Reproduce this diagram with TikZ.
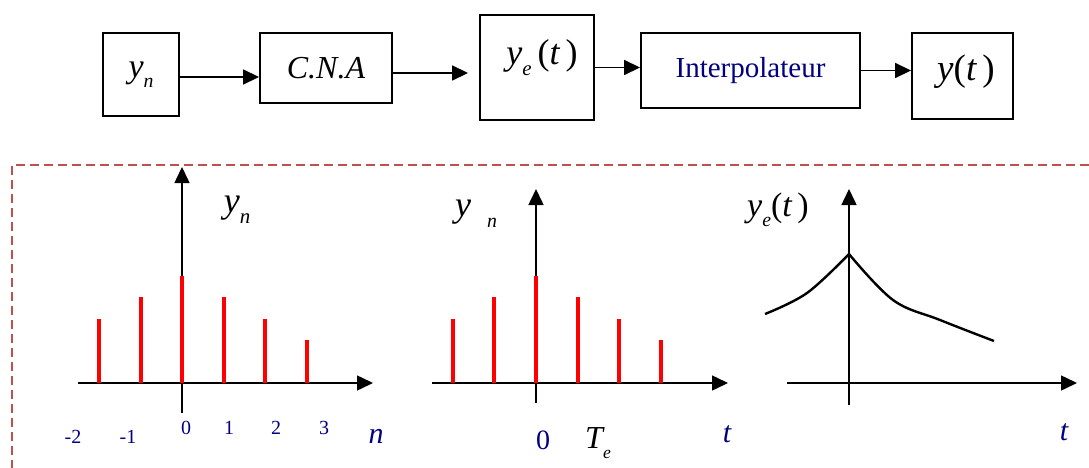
\documentclass[tikz,border=0pt]{standalone}
\usepackage{fontspec}
\usepackage{graphicx}
\setmainfont{Liberation Serif}
\usetikzlibrary{arrows.meta}

\definecolor{navytxt}{RGB}{0,0,128}
\definecolor{frame}{RGB}{192,80,77}
\newcommand\lo[2][0.58]{\raisebox{-0.3em}{\scalebox{#1}{\itshape #2}}}
\newcommand\fs[1]{\fontsize{#1}{#1}\selectfont}
\newcommand\ofte{\textup{(}\textit{t}\,\textup{)}}

\begin{document}
\begin{tikzpicture}[
	x=1pt, y=-1pt,
	box/.style={
		draw, line width=1.9pt, rectangle, inner sep=0pt,
		font=\fs{34}, align=center
	},
	arr/.style={-{Triangle[length=16pt,width=15pt]}, line width=1.6pt},
	axis/.style={-{Triangle[length=16pt,width=15pt]}, line width=1.5pt},
	stem/.style={red, line width=4pt},
	curve/.style={line width=2.4pt},
	lbl/.style={inner sep=0pt},
	tick/.style={lbl, text=navytxt, font=\fs{20}},
	]
	\useasboundingbox (0,0) rectangle (1089,468);

	\node[box, minimum width=76, minimum height=83]  (yn)     at (141,74.5) {\itshape y\lo{n}};
	\node[box, minimum width=132, minimum height=70, font=\fs{32}\itshape] (cna) at (326,68) {C.N.A};
	\node[box, minimum width=114, minimum height=105] (ye)     at (537,67.5) {};
	\node[lbl, font=\fs{36}] (yetxt) at (542,58) {\itshape y\lo{e}\,\ofte};
	\node[box, minimum width=219, minimum height=75, font=\fs{29}, text=navytxt] (interp) at (750.5,70.5) {Interpolateur};
	\node[box, minimum width=101, minimum height=86] (yt) at (962.5,76) {};
	\node[lbl, font=\fs{37}] (yttxt) at (966,72) {\itshape y\ofte};

	\draw[arr] ([yshift=-2.5pt]yn.east) -- ([yshift=-2.5pt]yn.east -| cna.west);
	\draw[arr] ([yshift=-5pt]cna.east) -- ([xshift=-11pt,yshift=-5pt]cna.east -| ye.west);
	\draw[arr] (ye.east) -- (ye.east -| interp.west);
	\draw[arr] (interp.east) -- (interp.east -| yt.west);

	\draw[frame, line width=1.8pt, dash pattern=on 9pt off 5pt] (1089,165) -- (12,165) -- (12,468);

	% sequence y_n versus n
	\draw[axis] (182,413) -- (182,167);
	\draw[axis] (78,383) -- (373,383);
	\foreach \k/\h in {-2/319,-1/297,0/276,1/297,2/319,3/340}
		\draw[stem] (182+41.5*\k,383) -- (182+41.5*\k,\h);
	\node[lbl, font=\fs{36}] (ylab1) at (237,210) {\itshape y\lo{n}};
	\foreach \nm/\txt/\xx/\yy in {m2/-2/73/437,m1/-1/128/437,0/0/186/428,1/1/229/428,2/2/276/428,3/3/324/428}
		\node[tick] (n\nm) at (\xx,\yy) {\txt};
	\node[lbl, text=navytxt, font=\fs{30}\itshape] (nlab) at (376,436) {n};

	% samples y_n versus t
	\draw[axis] (536,403) -- (536,189);
	\draw[axis] (432,383) -- (728,383);
	\foreach \k/\h in {-2/319,-1/297,0/276,1/297,2/319,3/340}
		\draw[stem] (536+41.7*\k,383) -- (536+41.7*\k,\h);
	\node[lbl, font=\fs{36}] (ylab2) at (476,214) {\itshape y\hspace{16pt}\lo[0.55]{n}};
	\node[lbl, text=navytxt, font=\fs{28}] (zero2) at (543,440) {0};
	\node[lbl, font=\fs{32}] (te) at (598,443) {\itshape T\lo[0.55]{e}};
	\node[lbl, text=navytxt, font=\fs{30}\itshape] (tlab2) at (727,434) {t};

	% interpolated y_e(t)
	\draw[axis] (849,405) -- (849,189);
	\draw[axis] (787,383) -- (1077,383);
	\draw[curve] plot[smooth, tension=0.6] coordinates {(765,314) (807,293) (849,254)};
	\draw[curve] plot[smooth, tension=0.6] coordinates {(849,254) (893,300) (940,320) (994,341)};
	\node[lbl, font=\fs{34}] (ylab3) at (778,210) {\itshape y\lo{e}\ofte};
	\node[lbl, text=navytxt, font=\fs{30}\itshape] (tlab3) at (1064,432) {t};
\end{tikzpicture}
\end{document}
